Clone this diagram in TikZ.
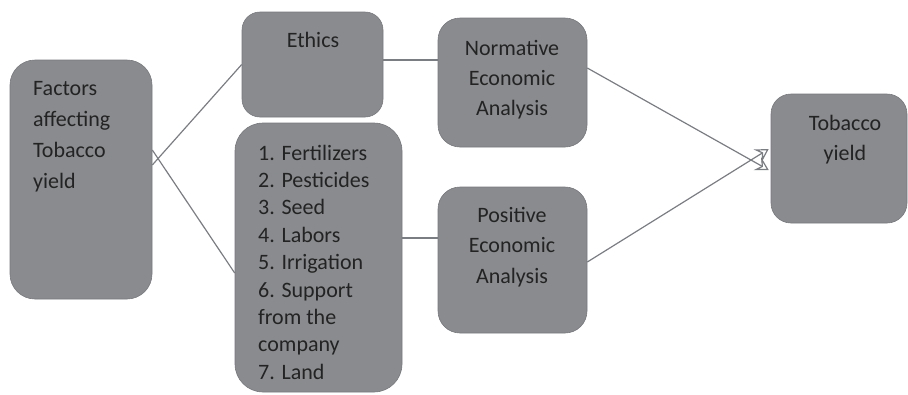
\documentclass[tikz,border=0pt]{standalone}
\usepackage{fontspec}
\setmainfont{Carlito}
\usetikzlibrary{arrows.meta,calc}
\definecolor{boxfill}{RGB}{137,139,142}
\definecolor{boxedge}{RGB}{118,120,124}
\definecolor{linkcol}{RGB}{122,125,130}
\definecolor{txt}{RGB}{35,35,35}
\begin{document}
\begin{tikzpicture}[x=1pt,y=-1pt,
  box/.style={draw=boxedge, line width=0.6pt, fill=boxfill, inner sep=0pt, rectangle},
  lbl/.style={inner sep=0pt, text=txt, font=\fontsize{22}{31.3}\selectfont},
  link/.style={draw=linkcol, line width=1.2pt},
  tip/.style={-{Stealth[open, length=13pt, width=15pt, inset=5pt]}}]
\useasboundingbox (0,0) rectangle (908,394);
% boxes
\node[box, minimum width=142pt, minimum height=239pt, rounded corners=25pt] (fac) at (81,179.5) {};
\node[box, minimum width=141pt, minimum height=105pt, rounded corners=18pt] (eth) at (312.5,64.5) {};
\node[box, minimum width=149pt, minimum height=129pt, rounded corners=22pt] (nor) at (512.5,82.5) {};
\node[box, minimum width=167pt, minimum height=269pt, rounded corners=28pt] (lst) at (318.5,257.5) {};
\node[box, minimum width=149pt, minimum height=146pt, rounded corners=22pt] (pos) at (512.5,260) {};
\node[box, minimum width=136pt, minimum height=129pt, rounded corners=20pt] (tob) at (839,158.5) {};
% texts (anchor base = baseline of the last line)
\node[lbl, align=left, anchor=base west] (facT) at (33,188.9) {Factors\\affecting\\Tobacco\\yield};
\node[lbl, anchor=base] (ethT) at (313,47) {Ethics};
\node[lbl, align=center, anchor=base, font=\fontsize{22}{30}\selectfont] (norT) at (512,115) {Normative\\Economic\\Analysis};
\node[lbl, align=left, anchor=base west, font=\fontsize{22}{27.4}\selectfont] (lstT) at (258,379.2) {1. Fertilizers\\2. Pesticides\\3. Seed\\4. Labors\\5. Irrigation\\6. Support\\from the\\company\\7. Land};
\node[lbl, align=center, anchor=base, font=\fontsize{22}{30.7}\selectfont] (posT) at (512,283.4) {Positive\\Economic\\Analysis};
\node[lbl, align=center, anchor=base, font=\fontsize{22}{30}\selectfont] (tobT) at (845,160) {Tobacco\\yield};
% connectors
\draw[link] ([yshift=14.5pt]fac.east) -- (eth.west);
\draw[link] ([yshift=29.5pt]fac.east) -- ([yshift=-15.5pt]lst.west);
\draw[link] ([yshift=4.5pt]eth.east) -- ([yshift=4.5pt]eth.east -| nor.west);
\draw[link] ([yshift=19.5pt]lst.east) -- ([yshift=19.5pt]lst.east -| pos.west);
\draw[link, tip] ([yshift=14.5pt]nor.east) -- ([xshift=-2pt, yshift=-11.5pt]tob.west);
\draw[link, tip] ([yshift=-2pt]pos.east) -- ([xshift=-2pt, yshift=9.5pt]tob.west);
\end{tikzpicture}
\end{document}
